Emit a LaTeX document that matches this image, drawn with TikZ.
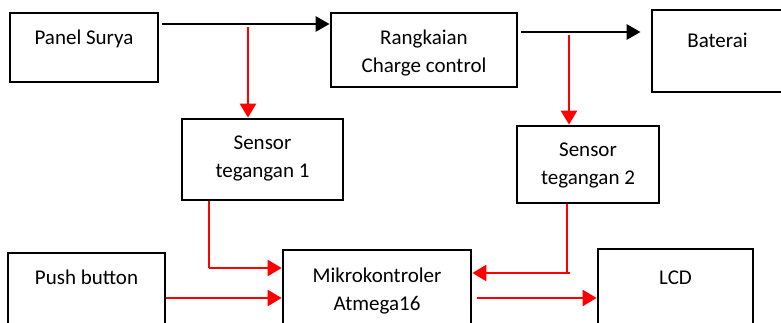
\documentclass[tikz,border=0pt]{standalone}
\usepackage{fontspec}
\setmainfont{Carlito}
\usepackage{xcolor}
\definecolor{cLine}{HTML}{000000}
\definecolor{cSig}{HTML}{FF0000}
\usepackage{tikz}
\usetikzlibrary{positioning,arrows.meta,calc}
\tikzset{
  node-box/.style={draw=cLine,line width=2.8pt,align=center,inner sep=0pt,
    font=\fontsize{21}{28}\selectfont},
  arrow/.style={-{Triangle[length=14pt,width=15pt]},line width=2.8pt,draw=cLine},
  arrow-red/.style={-{Triangle[length=14pt,width=16pt]},line width=2.6pt,draw=cSig},
  line-red/.style={line width=1.2pt,draw=cSig},
}

\begin{document}
\begin{tikzpicture}[x=1pt,y=-1pt]
  \useasboundingbox (0,0) rectangle (781,323);
  \node[node-box,minimum width=148pt,minimum height=69pt,text height=32pt,text depth=37pt]
    (psurya) at (84,47.5) {Panel Surya};
  \node[node-box,minimum width=186pt,minimum height=74pt,text height=60pt,text depth=14pt]
    (rangkaian) at (424,50) {Rangkaian\\Charge control};
  \node[node-box,minimum width=131pt,minimum height=82pt,text height=38pt,text depth=44pt]
    (baterai) at (717.5,51) {Baterai};
  \node[node-box,minimum width=161pt,minimum height=81pt,text height=59pt,text depth=22pt]
    (sensorA) at (262.5,159.5) {Sensor\\tegangan 1};
  \node[node-box,minimum width=142pt,minimum height=77pt,text height=59pt,text depth=18pt]
    (sensorB) at (588,164.5) {Sensor\\tegangan 2};
  \node[node-box,minimum width=157pt,minimum height=90pt,text height=31pt,text depth=59pt]
    (push) at (86.5,298) {Push button};
  \node[node-box,minimum width=188pt,minimum height=90pt,text height=60pt,text depth=30pt]
    (mikro) at (377,295) {Mikrokontroler\\Atmega16};
  \node[node-box,minimum width=155pt,minimum height=91pt,text height=35pt,text depth=56pt]
    (lcd) at (675.5,294.5) {LCD};

  % titik cabang
  \coordinate (j1) at (248,24);
  \coordinate (j2) at (569,32);
  \coordinate (k1) at (209,268);
  \coordinate (k2) at (567,273);

  \draw[arrow] ([xshift=3pt]psurya.east |- j1) -- (rangkaian.west |- j1);
  \draw[arrow] ([xshift=3pt]rangkaian.east |- j2) -- ([xshift=-10pt]baterai.west |- j2);
  \draw[arrow-red] ([yshift=-3pt]j1) -- (j1 |- sensorA.north);
  \draw[arrow-red] ([yshift=-3pt]j2) -- (j2 |- sensorB.north);

  \draw[line-red] (k1 |- sensorA.south) -- (k1);
  \draw[arrow-red] (k1) -- (mikro.west |- k1);
  \draw[line-red] (k2 |- sensorB.south) -- (k2);
  \draw[arrow-red] ([xshift=3pt]k2) -- (mikro.east |- k2);
  \draw[arrow-red] (push.east) -- (mikro.west |- push.east);
  \draw[arrow-red] ([xshift=5pt]mikro.east |- push.east) -- (lcd.west |- push.east);
\end{tikzpicture}
\end{document}
